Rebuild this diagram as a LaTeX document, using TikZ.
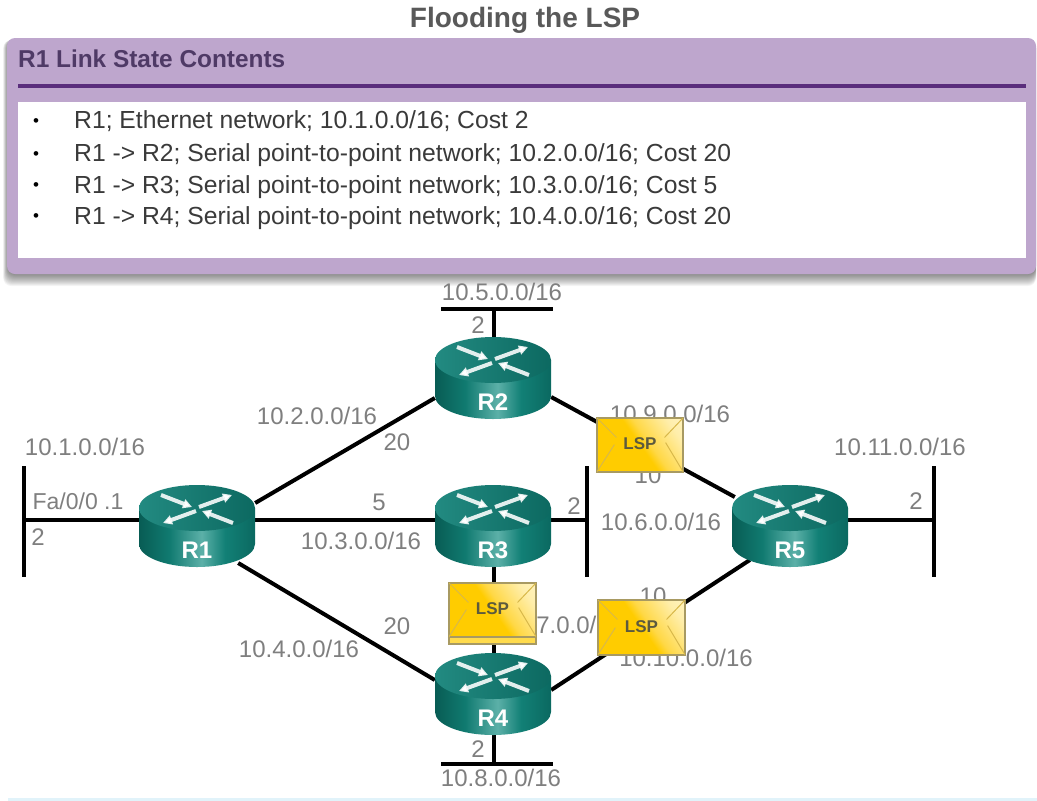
\documentclass[tikz,border=0pt]{standalone}
\usepackage{fontspec}
\setmainfont{Liberation Sans}
\usetikzlibrary{arrows.meta}
\definecolor{lblgray}{HTML}{7F7F7F}
\definecolor{titlegray}{HTML}{595959}
\definecolor{listgray}{HTML}{3A3A3A}
\definecolor{panelpurple}{HTML}{BEA6CD}
\definecolor{rulepurple}{HTML}{5A2D7C}
\definecolor{headpurple}{HTML}{4F3A66}
\definecolor{stripblue}{HTML}{E1F3FA}
\definecolor{envedge}{HTML}{A89A62}
\definecolor{envfold}{HTML}{D8B84A}
\definecolor{envgold}{HTML}{FFCC00}
\definecolor{envtext}{HTML}{5C5A3E}
\definecolor{rtop}{HTML}{0F8076}
\pgfdeclarehorizontalshading{routerside}{100bp}{
  color(0bp)=(rgb,255:red,12;green,112;blue,102);
  color(10bp)=(rgb,255:red,8;green,92;blue,84);
  color(25bp)=(rgb,255:red,8;green,92;blue,84);
  color(38bp)=(rgb,255:red,16;green,122;blue,112);
  color(52bp)=(rgb,255:red,92;green,176;blue,168);
  color(62bp)=(rgb,255:red,18;green,128;blue,118);
  color(80bp)=(rgb,255:red,8;green,96;blue,88);
  color(100bp)=(rgb,255:red,2;green,72;blue,66)}
\pgfdeclareverticalshading{lspshade}{100bp}{
  color(0bp)=(rgb,255:red,255;green,204;blue,0);
  color(50bp)=(rgb,255:red,255;green,204;blue,0);
  color(56bp)=(rgb,255:red,255;green,216;blue,70);
  color(75bp)=(rgb,255:red,255;green,238;blue,170);
  color(100bp)=(rgb,255:red,255;green,250;blue,225)}
\tikzset{
  lbl/.style={font=\fontsize{24}{26}\selectfont,text=lblgray,inner sep=0pt,anchor=base},
  listtext/.style={font=\fontsize{24.7}{26}\selectfont,text=listgray,inner sep=0pt,anchor=base west},
  bullettext/.style={font=\fontsize{17}{19}\selectfont,text=black,inner sep=0pt,anchor=base},
  routerbox/.style={rectangle,minimum width=116pt,minimum height=82pt,inner sep=0pt},
  routerlabel/.style={font=\bfseries\fontsize{24}{26}\selectfont,text=white,inner sep=0pt},
  wire/.style={line width=4pt,draw=black},
  bar/.style={line width=4.5pt,draw=black},
  lspbox/.style={rectangle,draw=envedge,line width=1.2pt,shading=lspshade,shading angle=-55,inner sep=0pt,
    font=\bfseries\fontsize{17}{19}\selectfont,text=envtext},
  fold/.style={draw=envfold,line width=1pt},
  flow/.style={line width=4pt,draw=white,draw opacity=.88,-{Triangle[length=9pt,width=9pt,fill=white]}},
}
\newcommand{\routerart}[2]{%
  \begin{scope}[shift={(#1.center)}]
    \path[shading=routerside] (-58,-18) -- (-58,18) arc[start angle=180,end angle=360,x radius=58pt,y radius=23pt] -- (58,-18) -- cycle;
    \path[left color=rtop!92!white,right color=rtop!82!black] (0,-18) ellipse[x radius=58pt,y radius=23pt];
    \draw[flow] (-36,-31) -- (-5,-19);
    \draw[flow] (2,-19) -- (35,-31);
    \draw[flow] (-1,-15) -- (-34,-3);
    \draw[flow] (36,-3) -- (5,-15);
    \node[routerlabel] (#1lab) at (0,24) {#2};
  \end{scope}}
\begin{document}
\begin{tikzpicture}[x=1pt,y=-1pt]
\useasboundingbox (0,0) rectangle (1037,801);
\fill[white] (0,0) rectangle (1037,801);

% strip at the bottom
\fill[stripblue] (8,798) rectangle (1037,801);

% title and panel
\node[font=\bfseries\fontsize{28}{30}\selectfont,text=titlegray,inner sep=0pt,anchor=base] (title) at (525,27) {Flooding the LSP};
\foreach \i in {1,...,12}
  \fill[black,opacity=.045,rounded corners=8pt] (8-\i*.4,40) rectangle (1036,274+\i*1.0);
\fill[panelpurple,rounded corners=8pt] (7,38) rectangle (1036,274);
\node[font=\bfseries\fontsize{24.4}{26}\selectfont,text=headpurple,inner sep=0pt,anchor=base west] (head) at (18,67) {R1 Link State Contents};
\draw[rulepurple,line width=4pt] (18,85.5) -- (1026,85.5);
\fill[white] (18,102) rectangle (1026,258);
\node[bullettext] (b1) at (36,126) {•};
\node[bullettext] (b2) at (36,159) {•};
\node[bullettext] (b3) at (36,190) {•};
\node[bullettext] (b4) at (36,221) {•};
\node[listtext] (t1) at (74,128) {R1; Ethernet network; 10.1.0.0/16; Cost 2};
\node[listtext] (t2) at (74,161) {R1 -> R2; Serial point-to-point network; 10.2.0.0/16; Cost 20};
\node[listtext] (t3) at (74,193) {R1 -> R3; Serial point-to-point network; 10.3.0.0/16; Cost 5};
\node[listtext] (t4) at (74,224) {R1 -> R4; Serial point-to-point network; 10.4.0.0/16; Cost 20};

% router anchors
\node[routerbox] (R1) at (197,526) {};
\node[routerbox] (R2) at (493,378) {};
\node[routerbox] (R3) at (493,526) {};
\node[routerbox] (R4) at (493,694) {};
\node[routerbox] (R5) at (790,526) {};
\coordinate (busA) at (24,520);
\coordinate (busB) at (494,309);
\coordinate (busC) at (587,520);
\coordinate (busD) at (494,764);
\coordinate (busE) at (934,520);

% LANs
\draw[bar] (busA) ++(0,-54) -- ++(0,111);
\draw[bar] (busC) ++(0,-54) -- ++(0,111);
\draw[bar] (busE) ++(0,-54) -- ++(0,111);
\draw[bar] (busB) ++(-53,0) -- ++(112,0);
\draw[bar] (busD) ++(-53,0) -- ++(112,0);

% links
\draw[wire] (busA) -- ([yshift=6pt]R1.west);
\draw[wire] (busB) -- (R2.north -| busB);
\draw[wire] (busC) -- ([yshift=6pt]R3.east);
\draw[wire] (busD) -- (R4.south -| busD);
\draw[wire] (busE) -- ([yshift=6pt]R5.east);
\draw[wire] ([yshift=23pt]R1.east) -- ([yshift=-20pt]R2.west);
\draw[wire] ([yshift=6pt]R1.east) -- ([yshift=6pt]R3.west);
\draw[wire] ([xshift=-17pt,yshift=-37pt]R1.east) -- ([yshift=14pt]R4.west);
\draw[wire] ([yshift=-19pt]R2.east) -- ([xshift=3pt,yshift=29pt]R5.west);
\draw[wire] (R3.south -| busB) -- (R4.north -| busB);
\draw[wire] ([yshift=4pt]R4.east) -- ([xshift=18pt,yshift=-34pt]R5.west);

% labels
\node[lbl] (l105) at (502,300) {10.5.0.0/16};
\node[lbl] (c105) at (478,333) {2};
\node[lbl] (l102) at (317,424) {10.2.0.0/16};
\node[lbl] (c102) at (397,450) {20};
\node[lbl] (l101) at (85,455) {10.1.0.0/16};
\node[lbl,font=\fontsize{23}{25}\selectfont] (lfa) at (78,509) {Fa/0/0 .1};
\node[lbl] (c101) at (38,545) {2};
\node[lbl] (c103) at (379,510) {5};
\node[lbl] (l103) at (361,549) {10.3.0.0/16};
\node[lbl] (c106) at (574,514) {2};
\node[lbl] (l106) at (661,530) {10.6.0.0/16};
\node[lbl] (l109) at (670,422) {10.9.0.0/16};
\node[lbl] (c109) at (648,483) {10};
\node[lbl] (l111) at (900,455) {10.11.0.0/16};
\node[lbl] (c111) at (916,509) {2};
\node[lbl] (c104) at (397,634) {20};
\node[lbl] (l104) at (299,657) {10.4.0.0/16};
\node[lbl] (l107) at (563,633) {10.7.0.0/16};
\node[lbl] (c110) at (653,604) {10};
\node[lbl] (l110) at (686,666) {10.10.0.0/16};
\node[lbl] (c108) at (478,757) {2};
\node[lbl] (l108) at (501,786) {10.8.0.0/16};

% routers
\routerart{R1}{R1}
\routerart{R2}{R2}
\routerart{R3}{R3}
\routerart{R4}{R4}
\routerart{R5}{R5}

% envelopes
\fill[envgold!70!white,draw=envedge,line width=1.2pt] (449,637) rectangle (536,644);
\foreach \n/\cx/\cy/\w/\h in {E1/640/445/86/54,E2/492.5/610/87/54,E3/641.5/627.5/87/55}{
  \node[lspbox,minimum width=\w pt,minimum height=\h pt] (\n) at (\cx,\cy) {};
  \draw[fold] (\n.north west) -- ++(20,20);
  \draw[fold] (\n.north east) -- ++(-19,20);
  \draw[fold] (\n.south west) -- ++(18,-28);
  \draw[fold] (\n.south east) -- ++(-18,-30);
  \draw[envedge,line width=1.2pt] (\n.north west) rectangle (\n.south east);
  \node[font=\bfseries\fontsize{17}{19}\selectfont,text=envtext,inner sep=0pt] (\n t) at ([yshift=1pt]\n.center) {LSP};
}
\end{tikzpicture}
\end{document}
